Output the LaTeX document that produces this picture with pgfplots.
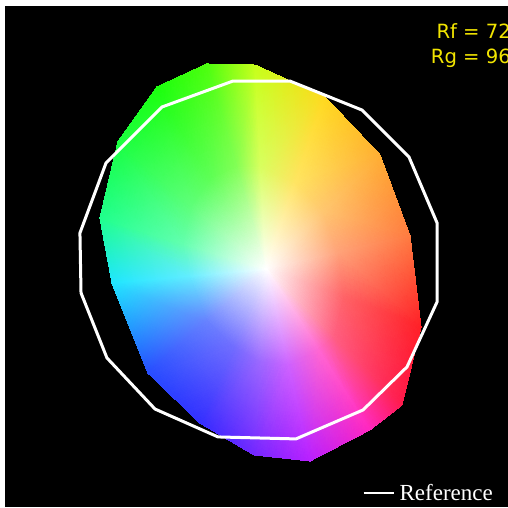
\documentclass[border=0pt]{standalone}
\usepackage{pgfplots}
\pgfplotsset{compat=1.18}
\usepackage{fontspec}
\newfontfamily\dejavu{DejaVu Sans}
\newfontfamily\libserif{Liberation Serif}
\definecolor{rftext}{rgb}{0.95,0.9,0.0}
\begin{document}
\begin{tikzpicture}
\begin{axis}[
  scale only axis,
  width=509.1pt, height=501.0pt,
  xmin=-1.4083, xmax=1.42, ymin=-1.3722, ymax=1.4111,
  axis background/.style={fill=black},
  axis line style={draw=none},
  xtick=\empty, ytick=\empty,
  legend style={at={(axis cs:1.3028,-1.3444)}, anchor=south east, draw=none, fill=none,
    inner sep=0pt, font=\libserif\fontsize{23}{27}\selectfont, text=white,
    column sep=5pt, nodes={inner sep=0pt}},
  legend image code/.code={\draw[white, line width=2pt] (0pt,0pt) -- (30pt,0pt);},
]
% colour-vector fill: inner fan (centre -> half ring) and outer band (half ring -> test polygon)
\addplot[patch, patch type=triangle, shader=interp, mesh/color input=explicit, forget plot]
table[meta=c] {
x y c
0.042 -0.05 rgb=1,1,1
-0.122 0.520 rgb=0.51,1,0.335
0.012 0.517 rgb=0.846,1,0.37
-0.122 0.520 rgb=0.51,1,0.335
-0.286 1.089 rgb=0.3,1,0.05
-0.019 1.083 rgb=0.78,1,0.1
-0.122 0.520 rgb=0.51,1,0.335
-0.019 1.083 rgb=0.78,1,0.1
0.012 0.517 rgb=0.846,1,0.37
0.042 -0.05 rgb=1,1,1
0.012 0.517 rgb=0.846,1,0.37
0.206 0.428 rgb=1,0.895,0.384
0.012 0.517 rgb=0.846,1,0.37
-0.019 1.083 rgb=0.78,1,0.1
0.369 0.906 rgb=1,0.85,0.12
0.012 0.517 rgb=0.846,1,0.37
0.369 0.906 rgb=1,0.85,0.12
0.206 0.428 rgb=1,0.895,0.384
0.042 -0.05 rgb=1,1,1
0.206 0.428 rgb=1,0.895,0.384
0.359 0.267 rgb=1,0.776,0.44
0.206 0.428 rgb=1,0.895,0.384
0.369 0.906 rgb=1,0.85,0.12
0.675 0.583 rgb=1,0.68,0.2
0.206 0.428 rgb=1,0.895,0.384
0.675 0.583 rgb=1,0.68,0.2
0.359 0.267 rgb=1,0.776,0.44
0.042 -0.05 rgb=1,1,1
0.359 0.267 rgb=1,0.776,0.44
0.442 0.042 rgb=1,0.636,0.475
0.359 0.267 rgb=1,0.776,0.44
0.675 0.583 rgb=1,0.68,0.2
0.842 0.133 rgb=1,0.48,0.25
0.359 0.267 rgb=1,0.776,0.44
0.842 0.133 rgb=1,0.48,0.25
0.442 0.042 rgb=1,0.636,0.475
0.042 -0.05 rgb=1,1,1
0.442 0.042 rgb=1,0.636,0.475
0.473 -0.211 rgb=1,0.384,0.405
0.442 0.042 rgb=1,0.636,0.475
0.842 0.133 rgb=1,0.48,0.25
0.903 -0.372 rgb=1,0.12,0.15
0.442 0.042 rgb=1,0.636,0.475
0.903 -0.372 rgb=1,0.12,0.15
0.473 -0.211 rgb=1,0.384,0.405
0.042 -0.05 rgb=1,1,1
0.473 -0.211 rgb=1,0.384,0.405
0.420 -0.428 rgb=1,0.37,0.51
0.473 -0.211 rgb=1,0.384,0.405
0.903 -0.372 rgb=1,0.12,0.15
0.797 -0.806 rgb=1,0.1,0.3
0.473 -0.211 rgb=1,0.384,0.405
0.797 -0.806 rgb=1,0.1,0.3
0.420 -0.428 rgb=1,0.37,0.51
0.042 -0.05 rgb=1,1,1
0.420 -0.428 rgb=1,0.37,0.51
0.331 -0.497 rgb=1,0.405,0.825
0.420 -0.428 rgb=1,0.37,0.51
0.797 -0.806 rgb=1,0.1,0.3
0.619 -0.944 rgb=1,0.15,0.75
0.420 -0.428 rgb=1,0.37,0.51
0.619 -0.944 rgb=1,0.15,0.75
0.331 -0.497 rgb=1,0.405,0.825
0.042 -0.05 rgb=1,1,1
0.331 -0.497 rgb=1,0.405,0.825
0.164 -0.584 rgb=0.804,0.384,1
0.331 -0.497 rgb=1,0.405,0.825
0.619 -0.944 rgb=1,0.15,0.75
0.286 -1.117 rgb=0.72,0.12,1
0.331 -0.497 rgb=1,0.405,0.825
0.286 -1.117 rgb=0.72,0.12,1
0.164 -0.584 rgb=0.804,0.384,1
0.042 -0.05 rgb=1,1,1
0.164 -0.584 rgb=0.804,0.384,1
0.009 -0.567 rgb=0.615,0.405,1
0.164 -0.584 rgb=0.804,0.384,1
0.286 -1.117 rgb=0.72,0.12,1
-0.025 -1.083 rgb=0.45,0.15,1
0.164 -0.584 rgb=0.804,0.384,1
-0.025 -1.083 rgb=0.45,0.15,1
0.009 -0.567 rgb=0.615,0.405,1
0.042 -0.05 rgb=1,1,1
0.009 -0.567 rgb=0.615,0.405,1
-0.142 -0.478 rgb=0.44,0.426,1
0.009 -0.567 rgb=0.615,0.405,1
-0.025 -1.083 rgb=0.45,0.15,1
-0.325 -0.906 rgb=0.2,0.18,1
0.009 -0.567 rgb=0.615,0.405,1
-0.325 -0.906 rgb=0.2,0.18,1
-0.142 -0.478 rgb=0.44,0.426,1
0.042 -0.05 rgb=1,1,1
-0.142 -0.478 rgb=0.44,0.426,1
-0.286 -0.339 rgb=0.405,0.51,1
-0.142 -0.478 rgb=0.44,0.426,1
-0.325 -0.906 rgb=0.2,0.18,1
-0.614 -0.628 rgb=0.15,0.3,1
-0.142 -0.478 rgb=0.44,0.426,1
-0.614 -0.628 rgb=0.15,0.3,1
-0.286 -0.339 rgb=0.405,0.51,1
0.042 -0.05 rgb=1,1,1
-0.286 -0.339 rgb=0.405,0.51,1
-0.386 -0.089 rgb=0.384,0.93,1
-0.286 -0.339 rgb=0.405,0.51,1
-0.614 -0.628 rgb=0.15,0.3,1
-0.814 -0.128 rgb=0.12,0.9,1
-0.286 -0.339 rgb=0.405,0.51,1
-0.814 -0.128 rgb=0.12,0.9,1
-0.386 -0.089 rgb=0.384,0.93,1
0.042 -0.05 rgb=1,1,1
-0.386 -0.089 rgb=0.384,0.93,1
-0.420 0.092 rgb=0.384,1,0.685
-0.386 -0.089 rgb=0.384,0.93,1
-0.814 -0.128 rgb=0.12,0.9,1
-0.881 0.233 rgb=0.12,1,0.55
-0.386 -0.089 rgb=0.384,0.93,1
-0.881 0.233 rgb=0.12,1,0.55
-0.420 0.092 rgb=0.384,1,0.685
0.042 -0.05 rgb=1,1,1
-0.420 0.092 rgb=0.384,1,0.685
-0.370 0.303 rgb=0.37,1,0.475
-0.420 0.092 rgb=0.384,1,0.685
-0.881 0.233 rgb=0.12,1,0.55
-0.781 0.656 rgb=0.1,1,0.25
-0.420 0.092 rgb=0.384,1,0.685
-0.781 0.656 rgb=0.1,1,0.25
-0.370 0.303 rgb=0.37,1,0.475
0.042 -0.05 rgb=1,1,1
-0.370 0.303 rgb=0.37,1,0.475
-0.261 0.456 rgb=0.37,1,0.335
-0.370 0.303 rgb=0.37,1,0.475
-0.781 0.656 rgb=0.1,1,0.25
-0.564 0.961 rgb=0.1,1,0.05
-0.370 0.303 rgb=0.37,1,0.475
-0.564 0.961 rgb=0.1,1,0.05
-0.261 0.456 rgb=0.37,1,0.335
0.042 -0.05 rgb=1,1,1
-0.261 0.456 rgb=0.37,1,0.335
-0.122 0.520 rgb=0.51,1,0.335
-0.261 0.456 rgb=0.37,1,0.335
-0.564 0.961 rgb=0.1,1,0.05
-0.286 1.089 rgb=0.3,1,0.05
-0.261 0.456 rgb=0.37,1,0.335
-0.286 1.089 rgb=0.3,1,0.05
-0.122 0.520 rgb=0.51,1,0.335
};
\addplot[white, line width=3pt] coordinates {
(0.992,0.206) (0.836,0.572) (0.575,0.833) (0.175,0.994) (-0.142,0.994)
(-0.536,0.850) (-0.847,0.539) (-0.992,0.150) (-0.986,-0.183) (-0.842,-0.544)
(-0.575,-0.828) (-0.225,-0.983) (0.208,-0.994) (0.581,-0.833) (0.825,-0.594)
(0.992,-0.233) (0.992,0.206) (0.836,0.572)
};
\addlegendentry{Reference}
\node[anchor=base east, text=rftext, font=\dejavu\fontsize{19.6}{23}\selectfont, inner sep=0pt] at (axis cs:1.403,1.233) {Rf = 72};
\node[anchor=base east, text=rftext, font=\dejavu\fontsize{19.6}{23}\selectfont, inner sep=0pt] at (axis cs:1.403,1.094) {Rg = 96};
\coordinate (bbA) at (axis cs:-1.4361,1.4444);
\coordinate (bbB) at (axis cs:1.3861,-1.3778);
\end{axis}
\pgfresetboundingbox
\useasboundingbox (bbA) rectangle (bbB);
\end{tikzpicture}
\end{document}
